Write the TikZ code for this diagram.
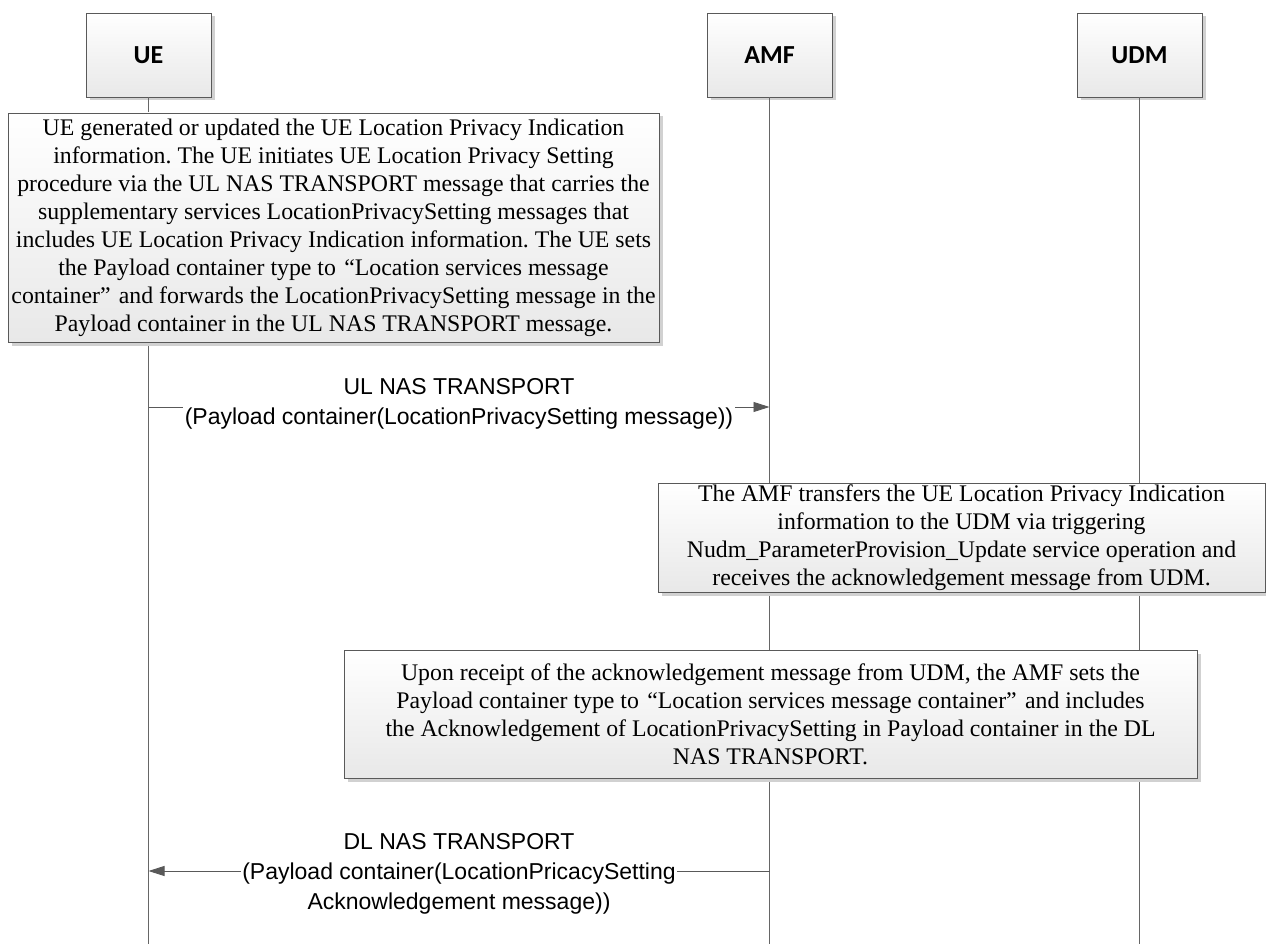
\documentclass[tikz,border=0pt]{standalone}
\usepackage{fontspec}
\setmainfont{Liberation Serif}
\newfontfamily\arialfont{Liberation Sans}
\newfontfamily\hdrfont{Carlito}
\usetikzlibrary{arrows.meta,shadows}
\begin{document}
\frenchspacing
\begin{tikzpicture}[x=1pt,y=-1pt,
  boxbase/.style={draw=black!65, line width=0.9pt, top color=white, bottom color=black!9,
    drop shadow={shadow xshift=3.5pt, shadow yshift=-3.5pt, fill=black!18, opacity=1},
    inner sep=0pt, align=center},
  actor/.style={boxbase, minimum width=125pt, minimum height=84pt,
    font=\hdrfont\bfseries\fontsize{26}{30}\selectfont},
  note/.style={boxbase, font=\fontsize{23.8}{28}\selectfont},
  life/.style={draw=black!60, line width=0.9pt},
  msg/.style={draw=black!65, line width=0.9pt, -{Triangle[length=16pt,width=10pt]}},
  lbl/.style={fill=white, inner sep=1.5pt, align=center,
    font=\arialfont\fontsize{23}{30}\selectfont}
]
\useasboundingbox[fill=white] (0,0) rectangle (1266,944);

% lifeline bottoms
\coordinate (uee) at (148.5,944);
\coordinate (amfe) at (769.5,944);
\coordinate (udme) at (1139.5,944);

% actors
\node[actor] (ue)  at (148.5,55) {UE};
\node[actor] (amf) at (769.5,55) {AMF};
\node[actor] (udm) at (1139.5,55) {UDM};

% lifelines
\draw[life] (ue.south) -- (uee);
\draw[life] (amf.south) -- (amfe);
\draw[life] (udm.south) -- (udme);

% notes
\node[note, minimum width=651pt, minimum height=229pt] (n1) at (333.5,227.5)
 {UE generated or updated the UE Location Privacy Indication\\
  information. The UE initiates UE Location Privacy Setting\\
  procedure via the UL NAS TRANSPORT message that carries the\\
  supplementary services LocationPrivacySetting messages that\\
  includes UE Location Privacy Indication information. The UE sets\\
  the Payload container type to\hspace{0.35em}“Location services message\\
  container”\hspace{0.35em}and forwards the LocationPrivacySetting message in the\\
  Payload container in the UL NAS TRANSPORT message.};

\node[note, minimum width=607pt, minimum height=109pt] (n2) at (961.5,537.5)
 {The AMF transfers the UE Location Privacy Indication\\
  information to the UDM via triggering\\
  Nudm\_ParameterProvision\_Update service operation and\\
  receives the acknowledgement message from UDM.};

\node[note, minimum width=853pt, minimum height=128pt] (n3) at (770.5,714)
 {Upon receipt of the acknowledgement message from UDM, the AMF sets the\\
  Payload container type to\hspace{0.35em}“Location services message container”\hspace{0.35em}and includes\\
  the Acknowledgement of LocationPrivacySetting in Payload container in the DL\\
  NAS TRANSPORT.};

% messages
\coordinate (m1a) at (148.5,407);
\coordinate (m1b) at (769.5,407);
\draw[msg] (m1a) -- node[lbl, yshift=3pt] (l1)
 {UL NAS TRANSPORT\\(Payload container(LocationPrivacySetting message))} (m1b);

\coordinate (m2a) at (769.5,871);
\coordinate (m2b) at (148.5,871);
\draw[msg] (m2a) -- node[lbl, yshift=-3pt] (l2)
 {DL NAS TRANSPORT\\(Payload container(LocationPricacySetting\\Acknowledgement message))} (m2b);
\end{tikzpicture}
\end{document}
